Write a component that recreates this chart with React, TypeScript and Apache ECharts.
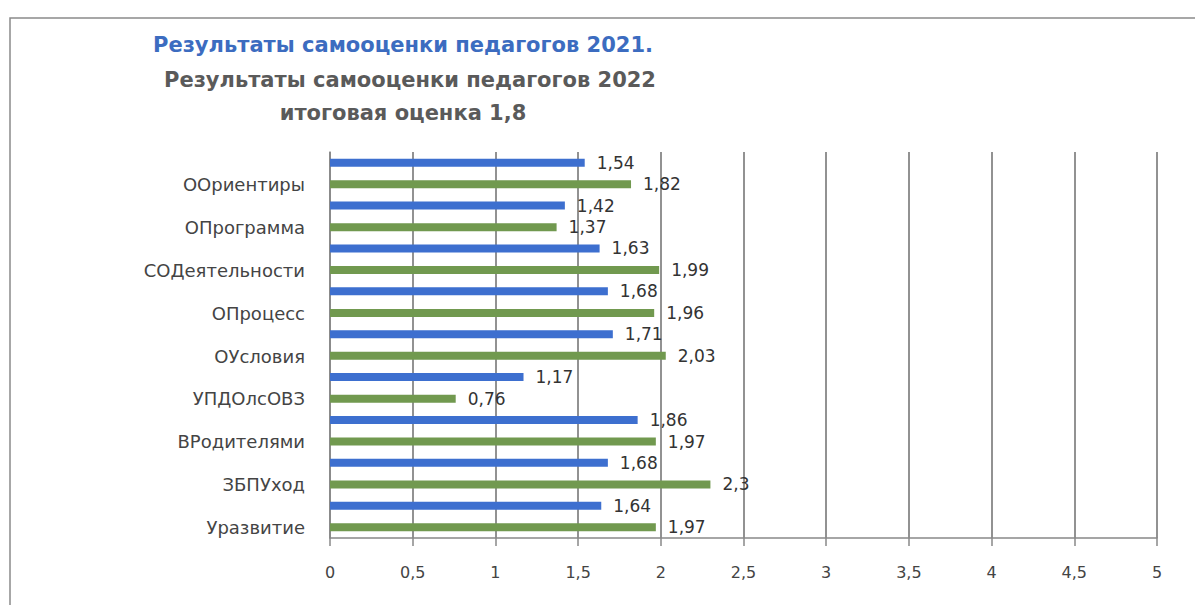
import React, { useEffect, useRef } from "react";
import * as echarts from "echarts";

const categories = [
  "ООриентиры",
  "ОПрограмма",
  "СОДеятельности",
  "ОПроцесс",
  "ОУсловия",
  "УПДОлсОВЗ",
  "ВРодителями",
  "ЗБПУход",
  "Уразвитие",
];
const values2021 = [1.54, 1.42, 1.63, 1.68, 1.71, 1.17, 1.86, 1.68, 1.64];
const values2022 = [1.82, 1.37, 1.99, 1.96, 2.03, 0.76, 1.97, 2.3, 1.97];
const titleLines = [
  "Результаты самооценки педагогов 2021.",
  "Результаты самооценки педагогов 2022",
  "итоговая оценка 1,8",
];

const fmt = (v: number) => String(v).replace(".", ",");
const FONT = "'DejaVu Sans', 'Noto Sans', sans-serif";

export default function App() {
  const ref = useRef<HTMLDivElement>(null);
  useEffect(() => {
    if (!ref.current) return;
    const chart = echarts.init(ref.current, null, { renderer: "svg" });
    const labelCfg = {
      show: true,
      position: "right" as const,
      distance: 12,
      color: "#333",
      fontSize: 17,
      fontFamily: FONT,
      formatter: (p: any) => fmt(p.value),
    };
    chart.setOption({
      animation: false,
      backgroundColor: "#fff",
      graphic: [
        {
          type: "rect",
          shape: { x: 10, y: 18, width: 1200, height: 600 },
          style: { fill: "none", stroke: "#8a8a8a", lineWidth: 1.5 },
          z: -1,
        },
        {
          type: "text",
          x: 403,
          y: 45,
          style: {
            text: titleLines[0],
            fill: "#3c6cc0",
            font: `bold 21px ${FONT}`,
            align: "center",
            verticalAlign: "middle",
          },
        },
        {
          type: "text",
          x: 410,
          y: 80,
          style: {
            text: titleLines[1],
            fill: "#5a5a5a",
            font: `bold 21px ${FONT}`,
            align: "center",
            verticalAlign: "middle",
          },
        },
        {
          type: "text",
          x: 403,
          y: 113,
          style: {
            text: titleLines[2],
            fill: "#5a5a5a",
            font: `bold 21px ${FONT}`,
            align: "center",
            verticalAlign: "middle",
          },
        },
      ],
      grid: { left: 330, right: 38, top: 152, bottom: 67, containLabel: false },
      xAxis: {
        type: "value",
        min: 0,
        max: 5,
        interval: 0.5,
        axisLine: { show: true, lineStyle: { color: "#888", width: 1.5 } },
        axisTick: { show: true, length: 8, lineStyle: { color: "#888", width: 1.5 } },
        splitLine: { show: true, lineStyle: { color: "#6e6e6e", width: 1.5 } },
        axisLabel: {
          color: "#444",
          fontSize: 16,
          fontFamily: FONT,
          margin: 26,
          formatter: (v: number) => fmt(v),
        },
      },
      yAxis: {
        type: "category",
        data: categories,
        inverse: true,
        axisLine: { show: true, lineStyle: { color: "#888", width: 1.5 } },
        axisTick: { show: false },
        axisLabel: {
          color: "#444",
          fontSize: 18,
          fontFamily: FONT,
          margin: 25,
          verticalAlign: "top",
          lineHeight: 22,
        },
      },
      series: [
        {
          name: "2021",
          type: "bar",
          data: values2021,
          barWidth: 8,
          barGap: "170%",
          barCategoryGap: "31%",
          itemStyle: { color: "#3d6fcf" },
          label: labelCfg,
        },
        {
          name: "2022",
          type: "bar",
          data: values2022,
          barWidth: 8,
          itemStyle: { color: "#71994f" },
          label: labelCfg,
        },
      ],
    });
    return () => chart.dispose();
  }, []);
  return (
    <div
      ref={ref}
      style={{ position: "fixed", left: 0, top: 0, width: 1195, height: 605 }}
    />
  );
}
